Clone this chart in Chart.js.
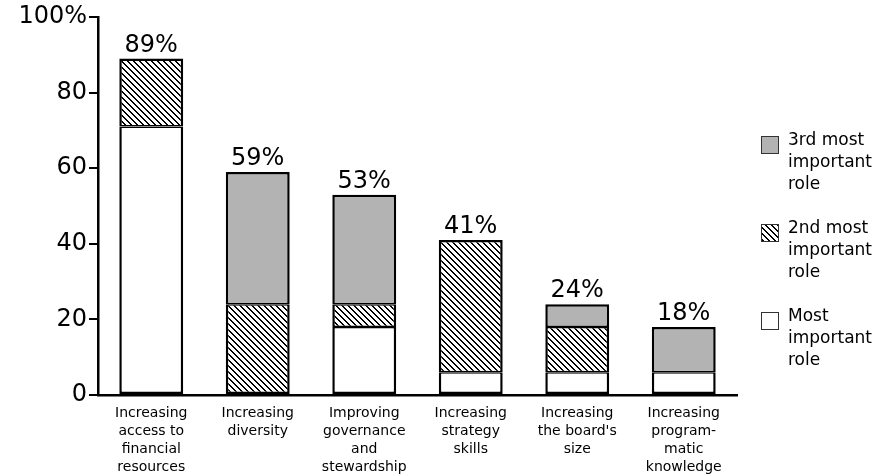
<!DOCTYPE html>
<html lang="en">
<head>
  <meta charset="UTF-8" />
  <title>Board roles</title>
  <style>
    html, body { margin: 0; padding: 0; background: #ffffff; }
    .wrap { width: 878px; height: 475px; position: relative; }
  </style>
</head>
<body>
  <div class="wrap">
    <canvas id="rolesChart" width="878" height="475"></canvas>
  </div>
  <script src="https://cdn.jsdelivr.net/npm/chart.js"></script>
  <script>
    const categories = [
      ["Increasing", "access to", "financial", "resources"],
      ["Increasing", "diversity"],
      ["Improving", "governance", "and", "stewardship"],
      ["Increasing", "strategy", "skills"],
      ["Increasing", "the board's", "size"],
      ["Increasing", "program-", "matic", "knowledge"]
    ];
    const mostImportant = [71, 0, 18, 6, 6, 6];
    const secondImportant = [18, 24, 6, 35, 12, 0];
    const thirdImportant = [0, 35, 29, 0, 6, 12];
    const totals = [89, 59, 53, 41, 24, 18];
    const yTicks = [0, 20, 40, 60, 80, 100];

    const FONT = "'DejaVu Sans', Verdana, sans-serif";
    const series = [mostImportant, secondImportant, thirdImportant];

    // crisp staircase diagonal hatch, top-left to bottom-right
    function makeHatch() {
      const s = 6;
      const c = document.createElement("canvas");
      c.width = s;
      c.height = s;
      const g = c.getContext("2d");
      g.fillStyle = "#ffffff";
      g.fillRect(0, 0, s, s);
      g.fillStyle = "#000000";
      for (let i = 0; i < s; i++) {
        g.fillRect(i, i, 1, 1);
        g.fillRect((i + 1) % s, i, 1, 1);
      }
      return g.createPattern(c, "repeat");
    }
    const hatch = makeHatch();

    // outer edges thick, shared edges between segments split in half
    function segBorder(ctx) {
      const d = ctx.datasetIndex, i = ctx.dataIndex;
      if (!series[d][i]) return 0;
      let below = false, above = false;
      for (let k = 0; k < d; k++) if (series[k][i]) below = true;
      for (let k = d + 1; k < series.length; k++) if (series[k][i]) above = true;
      return { left: 2.5, right: 2.5, top: above ? 1.5 : 2.5, bottom: below ? 1.5 : 2.5 };
    }

    // percentage totals above each stack
    const totalLabels = {
      id: "totalLabels",
      afterDatasetsDraw(chart) {
        const ctx = chart.ctx;
        const y = chart.scales.y;
        const meta = chart.getDatasetMeta(0);
        ctx.save();
        ctx.font = "24px " + FONT;
        ctx.fillStyle = "#000";
        ctx.textAlign = "center";
        ctx.textBaseline = "alphabetic";
        totals.forEach((t, i) => {
          const x = meta.data[i].x;
          ctx.fillText(t + "%", x, y.getPixelForValue(t) - 7);
        });
        ctx.restore();
      }
    };

    // legend on the right, three lines per item
    const sideLegend = {
      id: "sideLegend",
      afterDraw(chart) {
        const ctx = chart.ctx;
        const items = [
          { fill: "#b3b3b3", lines: ["3rd most", "important", "role"] },
          { fill: hatch, lines: ["2nd most", "important", "role"] },
          { fill: "#ffffff", lines: ["Most", "important", "role"] }
        ];
        ctx.save();
        ctx.font = "17px " + FONT;
        ctx.textBaseline = "alphabetic";
        ctx.textAlign = "left";
        items.forEach((it, k) => {
          const base = 145 + k * 88;
          ctx.fillStyle = it.fill;
          ctx.fillRect(762, base - 8, 16, 16);
          ctx.strokeStyle = "#333";
          ctx.lineWidth = 1;
          ctx.strokeRect(761.5, base - 8.5, 17, 17);
          ctx.fillStyle = "#000";
          it.lines.forEach((ln, j) => ctx.fillText(ln, 788, base + j * 22));
        });
        ctx.restore();
      }
    };

    new Chart(document.getElementById("rolesChart"), {
      type: "bar",
      data: {
        labels: categories,
        datasets: [
          { label: "Most important role", data: mostImportant, backgroundColor: "#ffffff" },
          { label: "2nd most important role", data: secondImportant, backgroundColor: hatch },
          { label: "3rd most important role", data: thirdImportant, backgroundColor: "#b3b3b3" }
        ].map(d => Object.assign(d, {
          borderColor: "#000",
          borderWidth: segBorder,
          borderSkipped: false,
          barPercentage: 0.6,
          categoryPercentage: 1
        }))
      },
      options: {
        responsive: false,
        animation: false,
        layout: { padding: { top: 17, right: 141, left: 0, bottom: 0 } },
        plugins: { legend: { display: false }, tooltip: { enabled: false } },
        scales: {
          x: {
            stacked: true,
            grid: { display: false },
            border: { color: "#000", width: 2.5 },
            ticks: {
              color: "#000",
              font: { family: FONT, size: 14, lineHeight: 1.3 },
              padding: 1,
              maxRotation: 0,
              autoSkip: false
            },
            afterFit(s) { s.height = 80; }
          },
          y: {
            stacked: true,
            min: 0,
            max: 100,
            afterBuildTicks(s) { s.ticks = yTicks.map(v => ({ value: v })); },
            grid: { drawOnChartArea: false, drawTicks: true, tickLength: 9, color: "#000", lineWidth: 2 },
            border: { color: "#000", width: 2.5 },
            ticks: {
              color: "#000",
              font: { family: FONT, size: 24 },
              padding: 2,
              callback: v => (v === 100 ? "100%" : v)
            },
            afterFit(s) { s.width = 98; }
          }
        }
      },
      plugins: [totalLabels, sideLegend]
    });
  </script>
</body>
</html>
